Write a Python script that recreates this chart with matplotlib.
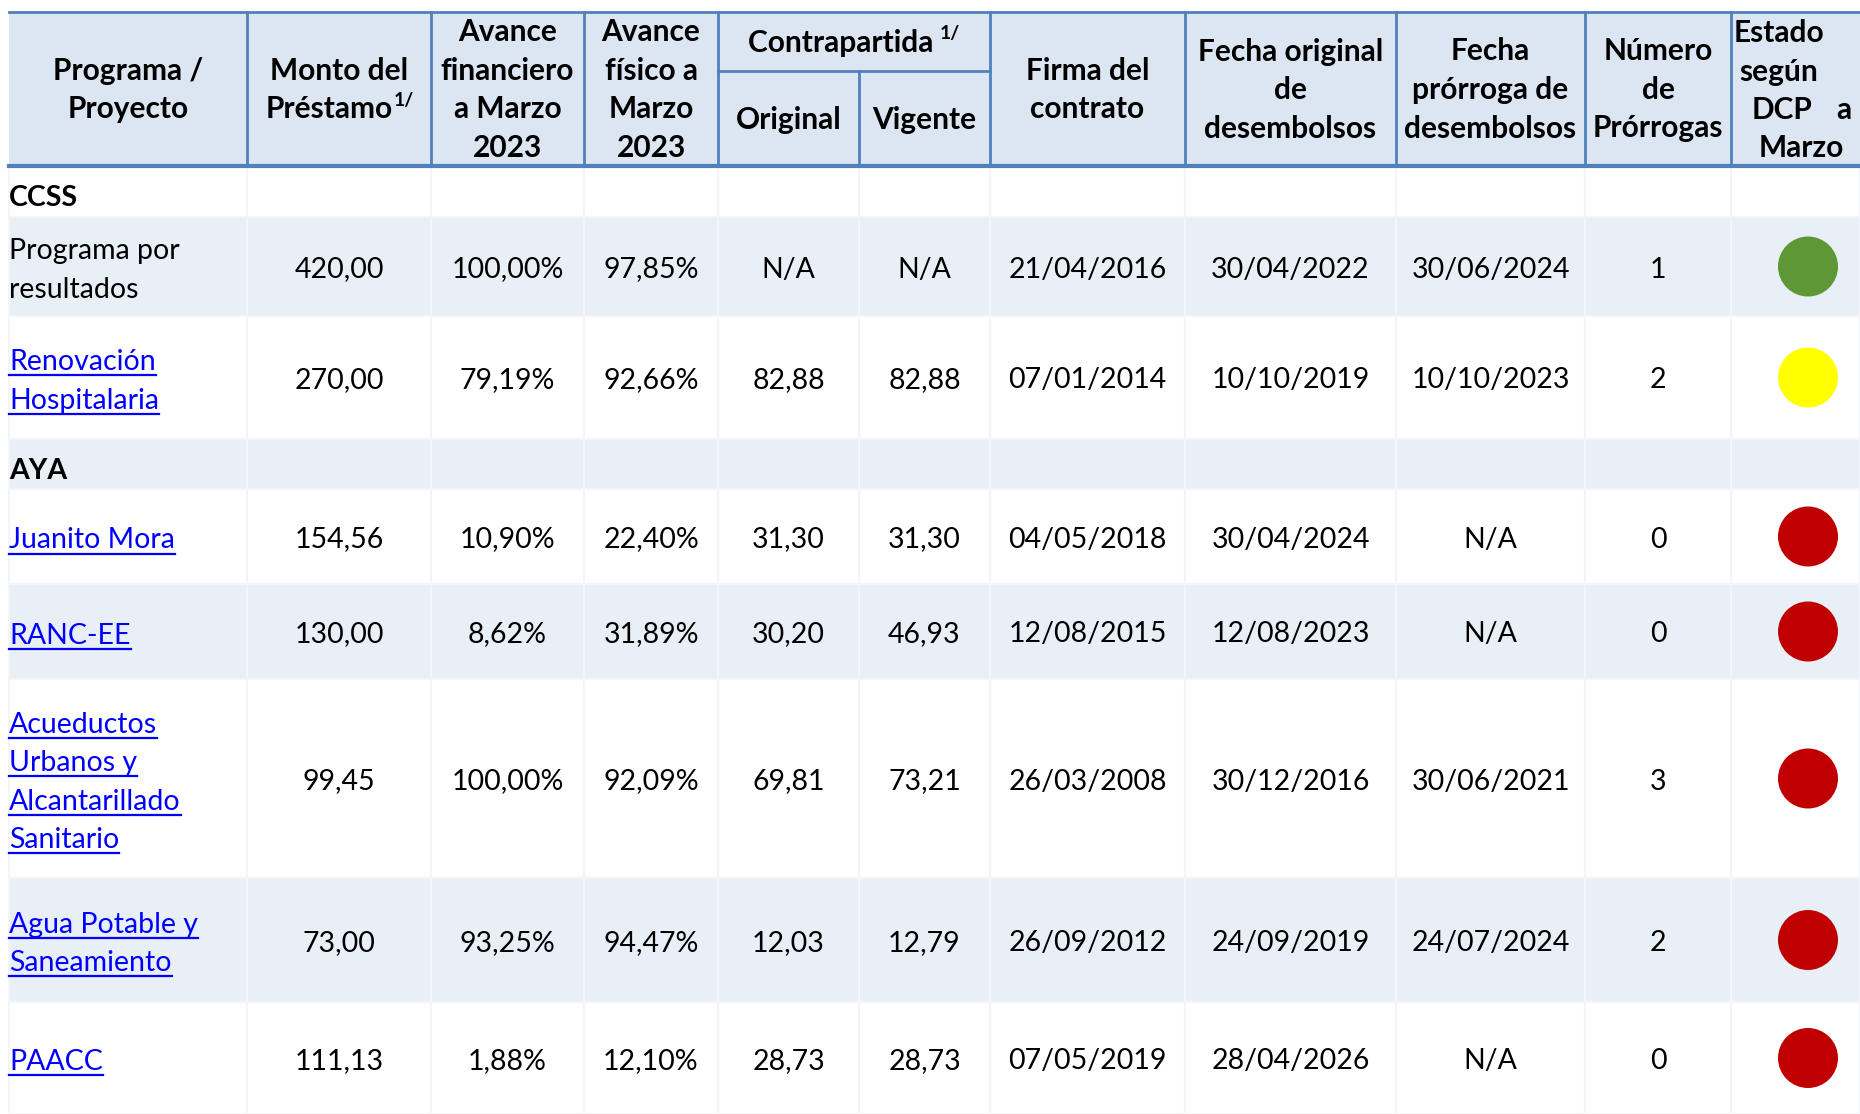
import matplotlib.pyplot as plt
from matplotlib.patches import Rectangle, Ellipse

plt.rcParams['font.family'] = ['Lato', 'DejaVu Sans']

W, H = 1860, 1114

# ---- datos ----
programas = ["Programa por\nresultados", "Renovación\nHospitalaria", "Juanito Mora", "RANC-EE",
             "Acueductos\nUrbanos y\nAlcantarillado\nSanitario", "Agua Potable y\nSaneamiento", "PAACC"]
grupo = ["CCSS", "CCSS", "AYA", "AYA", "AYA", "AYA", "AYA"]
es_enlace = [False, True, True, True, True, True, True]
monto = ["420,00", "270,00", "154,56", "130,00", "99,45", "73,00", "111,13"]
avance_fin = ["100,00%", "79,19%", "10,90%", "8,62%", "100,00%", "93,25%", "1,88%"]
avance_fis = ["97,85%", "92,66%", "22,40%", "31,89%", "92,09%", "94,47%", "12,10%"]
contra_orig = ["N/A", "82,88", "31,30", "30,20", "69,81", "12,03", "28,73"]
contra_vig = ["N/A", "82,88", "31,30", "46,93", "73,21", "12,79", "28,73"]
firma = ["21/04/2016", "07/01/2014", "04/05/2018", "12/08/2015", "26/03/2008", "26/09/2012", "07/05/2019"]
fecha_orig = ["30/04/2022", "10/10/2019", "30/04/2024", "12/08/2023", "30/12/2016", "24/09/2019", "28/04/2026"]
fecha_prorr = ["30/06/2024", "10/10/2023", "N/A", "N/A", "30/06/2021", "24/07/2024", "N/A"]
n_prorrogas = ["1", "2", "0", "0", "3", "2", "0"]
estado = ["verde", "amarillo", "rojo", "rojo", "rojo", "rojo", "rojo"]

colores_estado = {"verde": "#5E9735", "amarillo": "#FFFF00", "rojo": "#C00000"}

# ---- layout ----
col_x = [9, 247, 431, 584, 718, 859, 990, 1185, 1396, 1585, 1731, 1860]
head_top, head_mid, head_bot = 12, 71, 166
# filas: grupo CCSS, 2 proyectos, grupo AYA, 5 proyectos
row_y = [166, 217, 316, 439, 489, 584, 679, 878, 1002, 1114]
row_kind = ["g", "p", "p", "g", "p", "p", "p", "p", "p"]
row_fill = ["white", "#E9EFF7", "white", "#E9EFF7", "white", "#E9EFF7", "white", "#E9EFF7", "white"]

HEAD_BG = "#DCE6F2"
BORDER = "#4F81BD"
FS = 20.5     # cuerpo
HFS = 21.5    # encabezado
LINE = 38.5

fig = plt.figure(figsize=(W / 100, H / 100), dpi=100)
ax = fig.add_axes([0, 0, 1, 1])
ax.set_xlim(0, W)
ax.set_ylim(H, 0)
ax.axis('off')
rend = fig.canvas.get_renderer()


def width(s, **kw):
    t = ax.text(0, 0, s, **kw)
    w = t.get_window_extent(rend).width
    t.remove()
    return w


def head_lines(x, yc, lines, ha='center'):
    n = len(lines)
    y0 = yc - (n - 1) * LINE / 2
    for i, s in enumerate(lines):
        ax.text(x, y0 + i * LINE, s, ha=ha, va='center', fontsize=HFS, fontweight='bold')


# ---- encabezado ----
ax.add_patch(Rectangle((col_x[0], head_top), W - col_x[0], head_bot - head_top,
                       facecolor=HEAD_BG, edgecolor='none', zorder=0))
ax.plot([col_x[0], W], [head_top, head_top], color=BORDER, lw=2)
ax.plot([col_x[0], W], [head_bot, head_bot], color=BORDER, lw=3)
for x in col_x[1:-1]:
    if x == col_x[5]:
        ax.plot([x, x], [head_mid, head_bot], color=BORDER, lw=2)
    else:
        ax.plot([x, x], [head_top, head_bot], color=BORDER, lw=2)
ax.plot([col_x[4], col_x[6]], [head_mid, head_mid], color=BORDER, lw=2)

hc = 90
bold = dict(fontweight='bold')
cx = [(col_x[i] + col_x[i + 1]) / 2 for i in range(len(col_x) - 1)]
head_lines(cx[0], hc, ["Programa /", "Proyecto"])
# Monto del Préstamo 1/
ax.text(cx[1], hc - LINE / 2, "Monto del", ha='center', va='center', fontsize=HFS, **bold)
w1 = width("Préstamo", fontsize=HFS, **bold)
w2 = width("1/", fontsize=HFS * 0.65, **bold)
xs = cx[1] - (w1 + w2) / 2
ax.text(xs, hc + LINE / 2, "Préstamo", ha='left', va='center', fontsize=HFS, **bold)
ax.text(xs + w1 + 1, hc + LINE / 2 - 9, "1/", ha='left', va='center', fontsize=HFS * 0.65, **bold)
head_lines(cx[2], hc, ["Avance", "financiero", "a Marzo", "2023"])
head_lines(cx[3], hc, ["Avance", "físico a", "Marzo", "2023"])
# Contrapartida 1/
ccx = (col_x[4] + col_x[6]) / 2
w1 = width("Contrapartida ", fontsize=HFS, **bold)
w2 = width("1/", fontsize=HFS * 0.65, **bold)
xs = ccx - (w1 + w2) / 2
ax.text(xs, 43, "Contrapartida ", ha='left', va='center', fontsize=HFS, **bold)
ax.text(xs + w1, 34, "1/", ha='left', va='center', fontsize=HFS * 0.65, **bold)
ax.text(cx[4], 120, "Original", ha='center', va='center', fontsize=HFS, **bold)
ax.text(cx[5], 120, "Vigente", ha='center', va='center', fontsize=HFS, **bold)
head_lines(cx[6], hc, ["Firma del", "contrato"])
head_lines(cx[7], hc, ["Fecha original", "de", "desembolsos"])
head_lines(cx[8], hc, ["Fecha", "prórroga de", "desembolsos"])
head_lines(cx[9], hc, ["Número", "de", "Prórrogas"])
ey = [33, 72, 110, 148]
ax.text(1734, ey[0], "Estado", ha='left', va='center', fontsize=HFS, **bold)
ax.text(1739, ey[1], "según", ha='left', va='center', fontsize=HFS, **bold)
ax.text(1752, ey[2], "DCP", ha='left', va='center', fontsize=HFS, **bold)
ax.text(1836, ey[2], "a", ha='left', va='center', fontsize=HFS, **bold)
ax.text(1801, ey[3], "Marzo", ha='center', va='center', fontsize=HFS, **bold)

# ---- cuerpo ----
for r in range(len(row_kind)):
    y0, y1 = row_y[r], row_y[r + 1]
    for c in range(len(col_x) - 1):
        ax.add_patch(Rectangle((col_x[c], y0), col_x[c + 1] - col_x[c], y1 - y0,
                               facecolor=row_fill[r], edgecolor='#F3F5F8', lw=1.5, zorder=0))

columnas = [monto, avance_fin, avance_fis, contra_orig, contra_vig, firma, fecha_orig,
            fecha_prorr, n_prorrogas]

p = 0
for r, kind in enumerate(row_kind):
    y0, y1 = row_y[r], row_y[r + 1]
    yc = (y0 + y1) / 2
    if kind == "g":
        ax.text(col_x[0], yc + 7, grupo[p], ha='left', va='center', fontsize=FS, fontweight='bold')
        continue
    lines = programas[p].split("\n")
    color = "#0000FF" if es_enlace[p] else "black"
    n = len(lines)
    ystart = yc - (n - 1) * LINE / 2
    for i, s in enumerate(lines):
        yb = ystart + i * LINE + 12
        t = ax.text(col_x[0], yb, s, ha='left', va='baseline', fontsize=FS, color=color)
        if es_enlace[p]:
            w = t.get_window_extent(rend).width
            ax.plot([col_x[0], col_x[0] + w], [yb + 5, yb + 5], color=color, lw=1.6)
    for c, vals in enumerate(columnas):
        ax.text(cx[c + 1], yc + 3, vals[p], ha='center', va='center', fontsize=FS)
    ax.add_patch(Ellipse((1808, yc), 60, 60, facecolor=colores_estado[estado[p]],
                         edgecolor='none', zorder=3))
    p += 1

fig.savefig("out.png", dpi=100)
